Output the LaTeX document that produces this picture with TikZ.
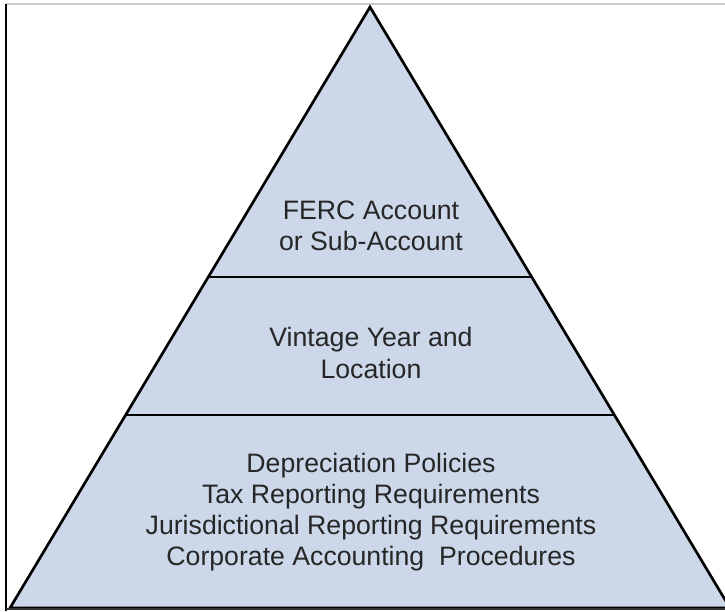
\documentclass[tikz,border=0pt]{standalone}
\usepackage{fontspec}
\setmainfont{Liberation Sans}
\usepackage{xcolor}
\usetikzlibrary{calc}
\definecolor{tierblue}{RGB}{204,216,234}
\tikzset{tiertext/.style={font=\fontsize{20}{23.4}\selectfont, align=center, text=black!85}}

\begin{document}
\begin{tikzpicture}[x=0.75pt, y=-0.75pt, line width=2pt]
    \useasboundingbox (0,0) rectangle (725,611);
    % Frame
    \draw[gray!40, line width=1pt] (6,4) -- (725,4);
    \draw[line width=1.5pt] (6,4) -- (6,611);
    % Pyramid
    \coordinate (apex) at (370,7);
    \coordinate (bl) at (10,608);
    \coordinate (br) at (730,608);
    \filldraw[fill=tierblue] (bl) -- (apex) -- (br) -- cycle;
    \draw[black!80, line width=2pt] (6,609) -- (725,609);
    % Tier lines
    \coordinate (t1l) at ($(apex)!0.449!(bl)$);
    \coordinate (t1r) at ($(apex)!0.449!(br)$);
    \coordinate (t2l) at ($(apex)!0.679!(bl)$);
    \coordinate (t2r) at ($(apex)!0.679!(br)$);
    \draw (t1l) -- (t1r);
    \draw (t2l) -- (t2r);
    % Labels
    \node[tiertext] (ferc) at (371,226) {FERC Account\\or Sub-Account};
    \node[tiertext] (vintage) at (371,353) {Vintage Year and\\Location};
    \node[tiertext] (policies) at (371,512) {Depreciation Policies\\Tax Reporting Requirements\\Jurisdictional Reporting Requirements\\Corporate Accounting\ \ Procedures};
\end{tikzpicture}
\end{document}
